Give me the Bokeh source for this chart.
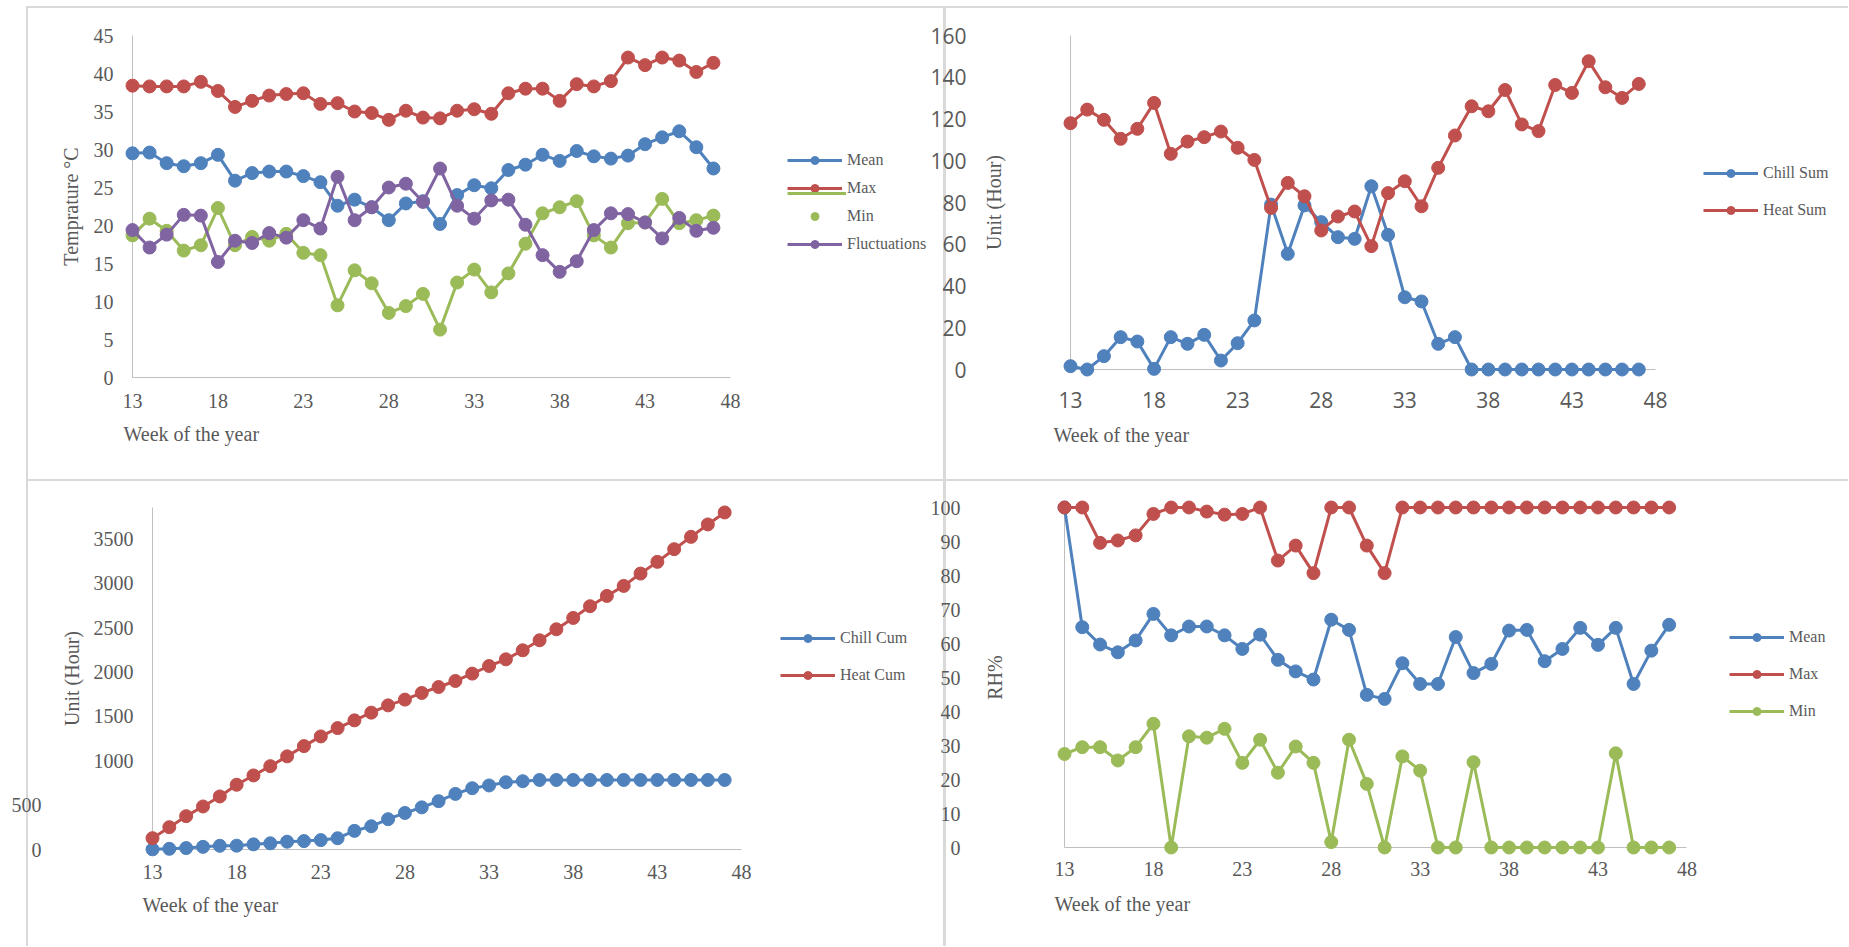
from bokeh.plotting import figure
from bokeh.models import Range1d, FixedTicker, Legend, LegendItem, LinearAxis, Title, ColumnDataSource
from bokeh.layouts import row, column
from bokeh.core.properties import value
from bokeh.embed import file_html
from bokeh.resources import INLINE

# ---------------- data ----------------
weeks = list(range(13, 48))
x_ticks = [13, 18, 23, 28, 33, 38, 43, 48]

# Panel 1: temperature (deg C)
temp_mean = [29.5, 29.6, 28.2, 27.8, 28.2, 29.3, 25.9, 26.9, 27.1, 27.1, 26.5, 25.7, 22.6, 23.4, 22.4,
             20.7, 22.9, 23.2, 20.2, 24.0, 25.3, 24.9, 27.3, 28.0, 29.3, 28.5, 29.8, 29.1, 28.8, 29.2,
             30.7, 31.6, 32.4, 30.3, 27.5]
temp_max = [38.4, 38.3, 38.3, 38.3, 38.9, 37.7, 35.6, 36.4, 37.1, 37.3, 37.4, 36.0, 36.1, 35.0, 34.8,
            33.9, 35.1, 34.2, 34.1, 35.1, 35.3, 34.7, 37.4, 38.0, 38.0, 36.4, 38.6, 38.3, 39.0, 42.1,
            41.1, 42.1, 41.7, 40.2, 41.4]
temp_min = [18.7, 20.9, 19.3, 16.7, 17.4, 22.3, 17.4, 18.5, 18.0, 18.9, 16.4, 16.1, 9.5, 14.1, 12.4,
            8.5, 9.4, 11.0, 6.3, 12.5, 14.2, 11.2, 13.7, 17.6, 21.6, 22.4, 23.2, 18.7, 17.1, 20.3,
            20.4, 23.5, 20.3, 20.7, 21.3]
temp_fluct = [19.4, 17.1, 18.8, 21.4, 21.3, 15.2, 18.0, 17.7, 19.0, 18.4, 20.7, 19.6, 26.4, 20.7, 22.4,
              25.0, 25.5, 23.1, 27.5, 22.6, 20.9, 23.3, 23.4, 20.1, 16.1, 13.9, 15.3, 19.4, 21.6, 21.5,
              20.4, 18.3, 21.0, 19.3, 19.7]
temp_yticks = [0, 5, 10, 15, 20, 25, 30, 35, 40, 45]

# Panel 2: weekly chill / heat sums (hours)
chill_sum = [1.6, 0, 6.4, 15.5, 13.4, 0.3, 15.5, 12.3, 16.6, 4.3, 12.6, 23.5, 79.0, 55.4, 78.6,
             70.6, 63.4, 62.6, 87.8, 64.5, 34.6, 32.6, 12.3, 15.5, 0, 0, 0, 0, 0, 0,
             0, 0, 0, 0, 0]
heat_sum = [118.0, 124.5, 119.6, 110.5, 115.3, 127.7, 103.3, 109.2, 111.3, 114.0, 106.2, 100.4, 77.4, 89.4, 83.0,
            66.6, 73.3, 75.7, 59.1, 84.5, 90.2, 78.2, 96.6, 112.1, 126.1, 123.7, 133.9, 117.4, 114.2, 136.3,
            132.5, 147.7, 135.2, 130.1, 136.8]
sum_yticks = [0, 20, 40, 60, 80, 100, 120, 140, 160]

# Panel 3: cumulative chill / heat (hours)
chill_cum = [2, 8, 16, 30, 42, 43, 58, 70, 88, 95, 106, 127, 210, 262, 342,
             412, 475, 545, 627, 691, 722, 758, 770, 784, 784, 784, 784, 784, 784, 784,
             784, 784, 784, 784, 784]
heat_cum = [128, 252, 376, 485, 598, 730, 835, 940, 1050, 1166, 1275, 1369, 1456, 1543, 1625,
            1690, 1765, 1832, 1900, 1983, 2069, 2144, 2246, 2359, 2483, 2611, 2743, 2859, 2972, 3111,
            3243, 3386, 3525, 3665, 3800]
cum_yticks = [0, 500, 1000, 1500, 2000, 2500, 3000, 3500]

# Panel 4: relative humidity (%)
rh_mean = [100, 64.8, 59.7, 57.4, 60.9, 68.7, 62.4, 65.0, 65.0, 62.4, 58.4, 62.6, 55.2, 51.8, 49.4,
           67.0, 64.0, 44.9, 43.7, 54.2, 48.1, 48.1, 61.9, 51.3, 54.0, 63.8, 64.0, 54.8, 58.4, 64.6,
           59.6, 64.6, 48.1, 57.9, 65.5]
rh_max = [100, 100, 89.6, 90.3, 91.8, 98.1, 100, 100, 98.8, 97.9, 98.1, 100, 84.4, 88.8, 80.7,
          100, 100, 88.8, 80.7, 100, 100, 100, 100, 100, 100, 100, 100, 100, 100, 100,
          100, 100, 100, 100, 100]
rh_min = [27.5, 29.5, 29.5, 25.6, 29.5, 36.4, 0, 32.7, 32.3, 34.9, 24.9, 31.7, 22.0, 29.7, 24.9,
          1.6, 31.7, 18.7, 0, 26.8, 22.6, 0, 0, 25.1, 0, 0, 0, 0, 0, 0,
          0, 27.7, 0, 0, 0]
rh_yticks = [0, 10, 20, 30, 40, 50, 60, 70, 80, 90, 100]

# ---------------- style ----------------
BLUE, RED, GREEN, PURPLE = "#4F81BD", "#C0504D", "#9BBB59", "#8064A2"
TXT = "#595959"
AXIS = "#bfbfbf"
SERIF = "Liberation Serif"
SANS = "Open Sans"


def style_axis(ax, ticks, font, size, standoff, line=True):
    ax.ticker = FixedTicker(ticks=ticks)
    ax.axis_line_color = AXIS if line else None
    ax.axis_line_width = 1
    ax.major_tick_line_color = None
    ax.minor_tick_line_color = None
    ax.major_tick_out = 0
    ax.major_tick_in = 0
    ax.minor_tick_out = 0
    ax.minor_tick_in = 0
    ax.major_label_text_color = TXT
    ax.major_label_text_font = font
    ax.major_label_text_font_size = size
    ax.major_label_standoff = standoff
    ax.axis_label_text_font = SERIF
    ax.axis_label_text_font_size = "20px"
    ax.axis_label_text_font_style = "normal"
    ax.axis_label_text_color = TXT


def make_fig(w, h, left, top, bottom, axis_px, yr, xfont, xsize, xstand):
    # frame spans from the y axis to the right edge of the figure; the x axis
    # (weeks 13..48) covers the first `axis_px` pixels of it, the legend sits beyond
    frame_px = w - left
    x_end = 13 + (48 - 13) * frame_px / axis_px
    p = figure(width=w, height=h, x_range=Range1d(13, x_end), y_range=Range1d(*yr),
               output_backend="svg", toolbar_location=None,
               min_border_left=left, min_border_right=0,
               min_border_top=top, min_border_bottom=bottom)
    p.border_fill_color = None
    p.background_fill_color = None
    p.outline_line_color = None
    p.xgrid.visible = False
    p.ygrid.visible = False
    style_axis(p.xaxis[0], x_ticks, xfont, xsize, xstand)
    p.xaxis[0].bounds = (13, 48)
    return p


def series(p, ys, color):
    src = ColumnDataSource(dict(x=weeks, y=ys))
    lr = p.line("x", "y", source=src, line_color=color, line_width=3, level="overlay")
    sr = p.scatter("x", "y", source=src, size=13, fill_color=color, line_color=color, level="overlay")
    return lr, sr


def add_legend(p, items, vx, vy, spacing, glyph_width=55, height=20, font_size="16px"):
    leg = Legend(items=items, location=(vx, vy), orientation="vertical",
                 glyph_width=glyph_width, glyph_height=height, label_height=height, label_standoff=5,
                 spacing=spacing, padding=0, margin=0,
                 border_line_color=None, background_fill_alpha=0,
                 label_text_font=SERIF, label_text_font_size=font_size, label_text_color=TXT)
    p.add_layout(leg)


def add_xtitle(p, offset, standoff):
    p.add_layout(Title(text="Week of the year", align="left", offset=offset, standoff=standoff,
                       vertical_align="top", text_font=SERIF, text_font_size="20px",
                       text_font_style="normal", text_color=TXT), "below")


# ---------------- panel 1 ----------------
p1 = make_fig(927, 480, 132, 35, 103, 598, (0, 45), SERIF, "20px", 16)
style_axis(p1.yaxis[0], temp_yticks, SERIF, "20px", 19)
p1.yaxis[0].axis_label = "Temprature \u00b0C"
p1.yaxis[0].axis_label_standoff = 9
m_l, m_s = series(p1, temp_mean, BLUE)
x_l, x_s = series(p1, temp_max, RED)
n_l, n_s = series(p1, temp_min, GREEN)
f_l, f_s = series(p1, temp_fluct, PURPLE)
add_legend(p1, [LegendItem(label="Mean", renderers=[m_l, m_s]),
                LegendItem(label="Max", renderers=[x_l, x_s]),
                LegendItem(label="Min", renderers=[n_s]),
                LegendItem(label="Fluctuations", renderers=[f_l, f_s])], 655, 123, 8)
# stray green line drawn just under the "Max" entry in the original legend
add_legend(p1, [LegendItem(label=value(""), renderers=[n_l])], 655, 181, 0,
           glyph_width=59, height=6, font_size="1px")
add_xtitle(p1, -9, 24)

# ---------------- panel 2 ----------------
p2 = make_fig(921, 472, 143, 35, 103, 585, (0, 160), SANS, "21px", 22)
style_axis(p2.yaxis[0], [], SERIF, "20px", 0)
p2.yaxis[0].axis_label = "Unit (Hour)"
p2.yaxis[0].axis_label_standoff = 66
ax2 = LinearAxis()
style_axis(ax2, sum_yticks, SANS, "21px", 13, line=False)
p2.add_layout(ax2, "left")
c_l, c_s = series(p2, chill_sum, BLUE)
h_l, h_s = series(p2, heat_sum, RED)
add_legend(p2, [LegendItem(label="Chill Sum", renderers=[c_l, c_s]),
                LegendItem(label="Heat Sum", renderers=[h_l, h_s])], 633, 149, 17)
add_xtitle(p2, -17, 26)

# ---------------- panel 3 ----------------
p3 = make_fig(927, 466, 152, 27, 97, 589, (0, 3856), SERIF, "20px", 15)
style_axis(p3.yaxis[0], [t for t in cum_yticks if t >= 1000], SERIF, "20px", 19)
p3.yaxis[0].axis_label = "Unit (Hour)"
p3.yaxis[0].axis_label_standoff = 8
ax3 = LinearAxis()
style_axis(ax3, [t for t in cum_yticks if t < 1000], SERIF, "20px", 16, line=False)
p3.add_layout(ax3, "left")
cc_l, cc_s = series(p3, chill_cum, BLUE)
hc_l, hc_s = series(p3, heat_cum, RED)
add_legend(p3, [LegendItem(label="Chill Cum", renderers=[cc_l, cc_s]),
                LegendItem(label="Heat Cum", renderers=[hc_l, hc_s])], 628, 164, 17)
add_xtitle(p3, -10, 24)

# ---------------- panel 4 ----------------
p4 = make_fig(921, 464, 135, 27, 97, 624, (0, 100), SERIF, "20px", 14)
style_axis(p4.yaxis[0], [], SERIF, "20px", 0)
p4.yaxis[0].axis_label = "RH%"
p4.yaxis[0].axis_label_standoff = 59
ax4 = LinearAxis()
style_axis(ax4, rh_yticks, SERIF, "20px", 20, line=False)
p4.add_layout(ax4, "left")
rm_l, rm_s = series(p4, rh_mean, BLUE)
rx_l, rx_s = series(p4, rh_max, RED)
rn_l, rn_s = series(p4, rh_min, GREEN)
add_legend(p4, [LegendItem(label="Mean", renderers=[rm_l, rm_s]),
                LegendItem(label="Max", renderers=[rx_l, rx_s]),
                LegendItem(label="Min", renderers=[rn_l, rn_s])], 665, 126, 17)
add_xtitle(p4, -10, 28)

# ---------------- layout with panel borders ----------------
LINE = "#d9d9d9"
grad = f"linear-gradient({LINE},{LINE})"
layout = column(row(p1, p2), row(p3, p4))
layout.styles = {
    "background-image": ", ".join([grad] * 4),
    "background-size": "calc(100% - 27px) 2px, 2px calc(100% - 6px), calc(100% - 27px) 2px, 3px calc(100% - 6px)",
    "background-position": "27px 6px, 26px 6px, 27px 479px, 943px 6px",
    "background-repeat": "no-repeat",
}

open("out.html", "w").write(file_html(layout, INLINE))
